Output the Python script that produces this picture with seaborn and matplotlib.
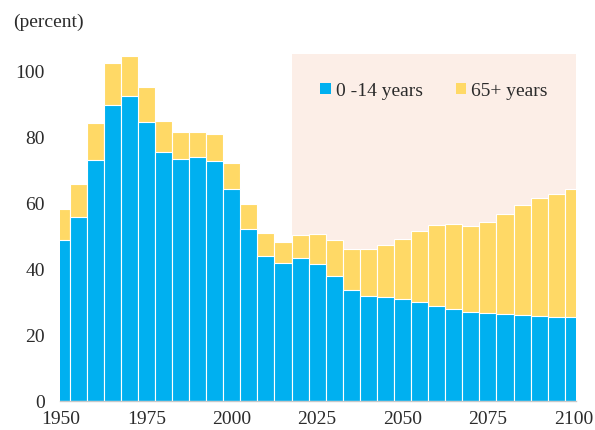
import matplotlib
matplotlib.use("Agg")
import matplotlib.pyplot as plt
from matplotlib.patches import Patch
import seaborn as sns
import pandas as pd

years = list(range(1950, 2101, 5))
young = [48.8, 55.5, 73.0, 89.7, 92.3, 84.5, 75.4, 73.2, 73.8, 72.7, 64.2,
         52.0, 43.8, 41.6, 43.2, 41.3, 37.7, 33.5, 31.7, 31.3, 30.8, 29.9,
         28.8, 27.8, 26.9, 26.6, 26.2, 26.1, 25.7, 25.4, 25.3]
total = [58.1, 65.7, 84.1, 102.2, 104.4, 95.1, 84.8, 81.4, 81.3, 80.9, 72.1,
         59.7, 50.7, 48.1, 50.1, 50.4, 48.7, 46.0, 45.8, 47.2, 48.9, 51.3,
         53.3, 53.6, 53.0, 54.1, 56.5, 59.3, 61.3, 62.6, 64.1]
old = [round(t - y, 1) for t, y in zip(total, young)]
series_labels = ["0 -14 years", "65+ years"]
x_ticks = [1950, 1975, 2000, 2025, 2050, 2075, 2100]
y_ticks = [0, 20, 40, 60, 80, 100]
unit_label = "(percent)"
projection_start = 2017.5

df = pd.DataFrame({"year": years, "young": young, "old": old})
df["total"] = df["young"] + df["old"]

sns.set_theme(style="white")
plt.rcParams["font.family"] = ["Liberation Serif", "DejaVu Serif"]

BLUE = "#00B0F0"
YELLOW = "#FFD966"
PINK = "#FCEEE7"
TXT = "#2b2b2b"

fig = plt.figure(figsize=(5.95, 4.31), dpi=100)
ax = fig.add_axes([60 / 595, 29.3 / 431, (575.7 - 60) / 595, (401.7 - 55) / 431])

ax.axvspan(projection_start, 2100.7, color=PINK, zorder=0, lw=0)

sns.barplot(data=df, x="year", y="total", native_scale=True, width=1.0,
            color=YELLOW, saturation=1, edgecolor="white", linewidth=0.8,
            ax=ax, zorder=2)
sns.barplot(data=df, x="year", y="young", native_scale=True, width=1.0,
            color=BLUE, saturation=1, edgecolor="white", linewidth=0.8,
            ax=ax, zorder=3)

ax.set_xlim(1949.7, 2100.7)
ax.set_ylim(0, 105)
ax.set_xticks(x_ticks)
ax.set_yticks(y_ticks)
ax.set_xlabel("")
ax.set_ylabel("")

for s in ["top", "right", "left"]:
    ax.spines[s].set_visible(False)
ax.spines["bottom"].set_color("#C8C8C8")
ax.spines["bottom"].set_linewidth(1.0)
ax.spines["bottom"].set_zorder(5)

ax.tick_params(axis="y", length=0, pad=11, labelsize=14, labelcolor=TXT)
ax.tick_params(axis="x", length=3, width=1, color="#C8C8C8", pad=4,
               labelsize=14, labelcolor=TXT)

handles = [Patch(facecolor=BLUE, edgecolor="none"),
           Patch(facecolor=YELLOW, edgecolor="none")]
leg = ax.legend(handles, series_labels, loc="center", ncol=2,
                bbox_to_anchor=(434 / 595, 1 - 92 / 431), bbox_transform=fig.transFigure,
                frameon=False, fontsize=14, handlelength=0.55, handleheight=0.55,
                handletextpad=0.25, columnspacing=1.7, borderpad=0)
for t in leg.get_texts():
    t.set_color(TXT)

fig.text(13 / 595, 1 - 27 / 431, unit_label, fontsize=14, color=TXT,
         ha="left", va="baseline")

fig.savefig("out.png", dpi=100)
